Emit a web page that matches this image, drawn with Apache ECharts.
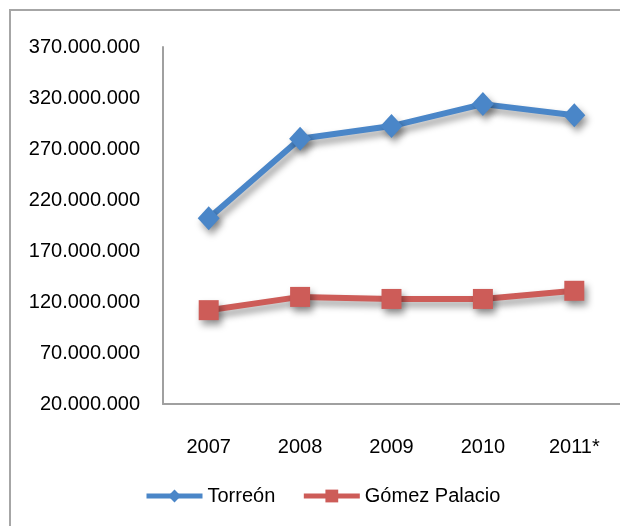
<!DOCTYPE html>
<html>
<head>
<meta charset="utf-8">
<script src="https://cdn.jsdelivr.net/npm/echarts@6/dist/echarts.min.js"></script>
<style>
  html, body { margin: 0; padding: 0; background: #fff; }
  #chart { width: 620px; height: 526px; }
</style>
</head>
<body>
<div id="chart"></div>
<script>
// datos
const years = ['2007', '2008', '2009', '2010', '2011*']
const torreon = [202000000, 280000000, 292500000, 314000000, 303000000]
const gomezPalacio = [112000000, 125000000, 123000000, 123000000, 131000000]
const yTicks = [20000000, 70000000, 120000000, 170000000, 220000000, 270000000, 320000000, 370000000]

const shadow = {
  shadowColor: 'rgba(0,0,0,0.4)',
  shadowBlur: 7,
  shadowOffsetX: 3,
  shadowOffsetY: 5
}

const myChart = echarts.init(document.getElementById('chart'))
const option = {
  animation: false,
  textStyle: { fontFamily: '"Liberation Sans", Arial, sans-serif' },
  graphic: [{
    type: 'rect',
    shape: { x: 10, y: 10, width: 660, height: 560 },
    style: { fill: 'none', stroke: '#a6a6a6', lineWidth: 2 },
    silent: true
  }],
  grid: {
    left: 163,
    right: -5,
    top: 47,
    bottom: 122
  },
  legend: {
    left: 139,
    top: 481,
    itemWidth: 56,
    itemHeight: 16,
    itemGap: 26,
    lineStyle: { width: 5 },
    textStyle: { fontSize: 20, color: '#000' },
    data: ['Torreón', 'Gómez Palacio']
  },
  xAxis: {
    type: 'category',
    data: years,
    boundaryGap: true,
    axisLine: { lineStyle: { color: '#a0a0a0', width: 2 } },
    axisTick: { show: false },
    axisLabel: { color: '#000', fontSize: 20, margin: 33 }
  },
  yAxis: {
    type: 'value',
    min: 20000000,
    max: 370000000,
    splitLine: { show: false },
    axisLine: { show: true, lineStyle: { color: '#a0a0a0', width: 2 } },
    axisTick: { show: false },
    axisLabel: {
      color: '#000',
      fontSize: 20,
      margin: 23,
      customValues: yTicks,
      formatter: function(value) {
        return value.toString().replace(/\B(?=(\d{3})+(?!\d))/g, '.')
      }
    }
  },
  series: [
    {
      name: 'Torreón',
      type: 'line',
      data: torreon,
      symbol: 'diamond',
      symbolSize: [22, 24],
      color: '#4a86c8',
      lineStyle: Object.assign({ width: 6, color: '#4a86c8' }, shadow),
      itemStyle: Object.assign({ color: '#4a86c8' }, shadow)
    },
    {
      name: 'Gómez Palacio',
      type: 'line',
      data: gomezPalacio,
      symbol: 'rect',
      symbolSize: 20,
      color: '#cd5c58',
      lineStyle: Object.assign({ width: 6, color: '#cd5c58' }, shadow),
      itemStyle: Object.assign({ color: '#cd5c58' }, shadow)
    }
  ]
}
option && myChart.setOption(option)
</script>
</body>
</html>
